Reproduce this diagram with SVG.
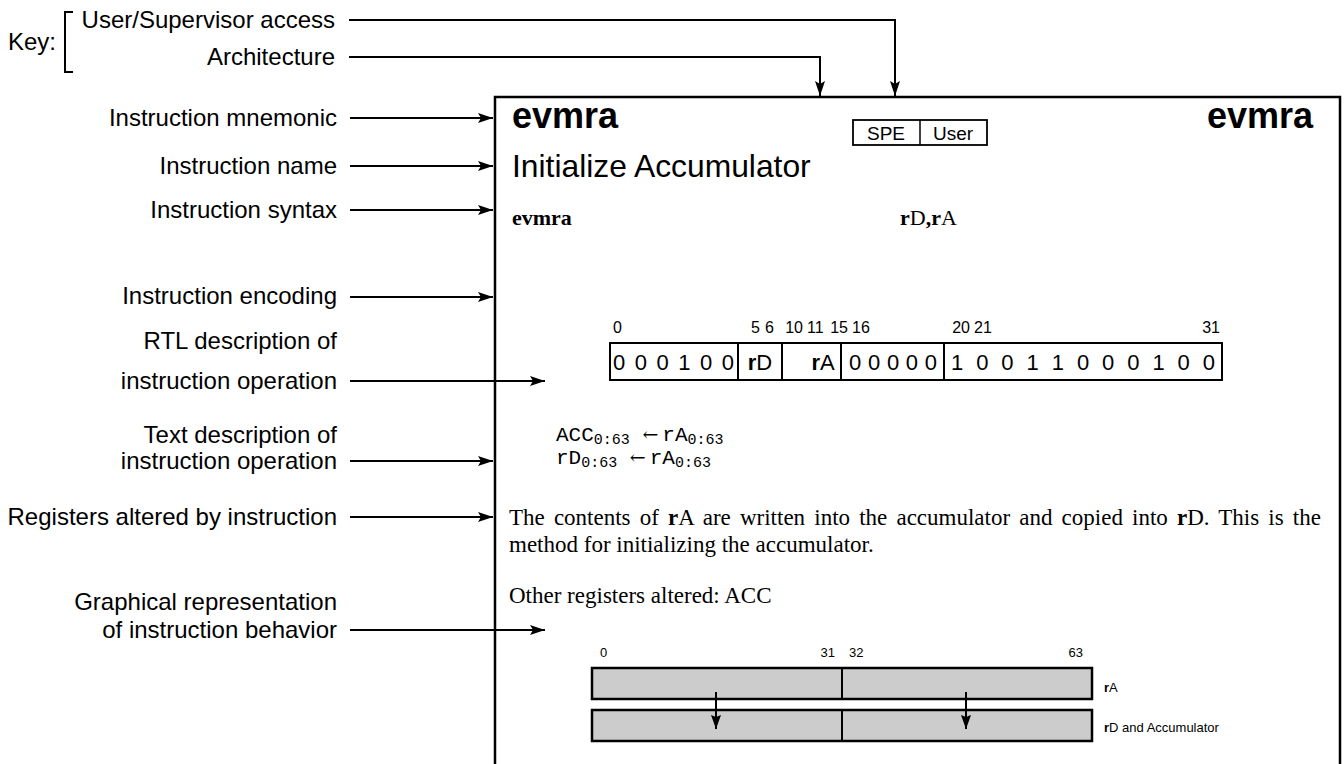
<svg xmlns="http://www.w3.org/2000/svg" width="1344" height="764" viewBox="0 0 1344 764">
<defs>
<marker id="ah" markerUnits="userSpaceOnUse" markerWidth="15" markerHeight="10" refX="15" refY="5" orient="auto"><path d="M0,0 L15,5 L0,10 L3,5 z" fill="#000"/></marker>
<marker id="ahs" markerUnits="userSpaceOnUse" markerWidth="14" markerHeight="10" refX="14" refY="5" orient="auto"><path d="M0,0 L14,5 L0,10 L2,5 z" fill="#000"/></marker>
</defs>
<style>
.sans{font-family:"Liberation Sans",Arial,Helvetica,sans-serif;fill:#000}
.lbl{font-size:24px;text-anchor:end}
.serif{font-family:"Liberation Serif","Times New Roman",serif;fill:#000}
.mono{font-family:"Liberation Mono","Courier New",monospace;fill:#000;font-size:21px}
.sub{font-size:15px}
.arr{font-family:"DejaVu Serif","DejaVu Sans",serif;font-size:19px}
.b{font-weight:bold}
.ln{stroke:#000;stroke-width:2;fill:none}
.reg{fill:#cccccc;stroke:#000;stroke-width:2.5}
</style>
<rect x="0" y="0" width="1344" height="764" fill="#fff"/>

<g id="key">
<text class="sans" x="8" y="50" font-size="24">Key:</text>
<path class="ln" d="M73,12 H65 V72 H73" stroke-width="1.5"/>
<text class="sans lbl" x="335" y="28">User/Supervisor access</text>
<text class="sans lbl" x="335" y="65">Architecture</text>
</g>

<g id="labels">
<text class="sans lbl" x="337" y="126">Instruction mnemonic</text>
<text class="sans lbl" x="337" y="174">Instruction name</text>
<text class="sans lbl" x="337" y="218">Instruction syntax</text>
<text class="sans lbl" x="337" y="304">Instruction encoding</text>
<text class="sans lbl" x="337" y="349">RTL description of</text>
<text class="sans lbl" x="337" y="389">instruction operation</text>
<text class="sans lbl" x="337" y="443">Text description of</text>
<text class="sans lbl" x="337" y="469">instruction operation</text>
<text class="sans lbl" x="337" y="525">Registers altered by instruction</text>
<text class="sans lbl" x="337" y="610">Graphical representation</text>
<text class="sans lbl" x="337" y="638">of instruction behavior</text>
</g>

<g id="page">
<rect x="495" y="97" width="845" height="700" fill="none" stroke="#000" stroke-width="2.5"/>
<text class="sans b" x="512" y="128" font-size="36">evmra</text>
<text class="sans b" x="1313" y="128" font-size="36" text-anchor="end">evmra</text>
<g id="spe">
<rect x="853" y="120" width="134" height="25" fill="none" stroke="#000" stroke-width="1.8"/>
<line x1="920" y1="120" x2="920" y2="145" stroke="#000" stroke-width="1.5"/>
<text class="sans" x="886" y="139.5" font-size="19" text-anchor="middle">SPE</text>
<text class="sans" x="953" y="139.5" font-size="19" text-anchor="middle">User</text>
</g>
<text class="sans" x="512" y="177" font-size="31.8">Initialize Accumulator</text>
<text class="serif b" x="512" y="225" font-size="22">evmra</text>
<text class="serif" x="900" y="225" font-size="22"><tspan class="b">r</tspan>D<tspan class="b">,r</tspan>A</text>
</g>

<g id="encoding">
<g class="sans" font-size="16">
<text x="613" y="333">0</text>
<text x="760" y="333" text-anchor="end">5</text>
<text x="765" y="333">6</text>
<text x="803" y="333" text-anchor="end">10</text>
<text x="807" y="333">11</text>
<text x="848" y="333" text-anchor="end">15</text>
<text x="852" y="333">16</text>
<text x="970" y="333" text-anchor="end">20</text>
<text x="974" y="333">21</text>
<text x="1220" y="333" text-anchor="end">31</text>
</g>
<rect x="610" y="343" width="612" height="37" fill="none" stroke="#000" stroke-width="2"/>
<line x1="738" y1="343" x2="738" y2="380" stroke="#000" stroke-width="2"/>
<line x1="782" y1="343" x2="782" y2="380" stroke="#000" stroke-width="2"/>
<line x1="841" y1="343" x2="841" y2="380" stroke="#000" stroke-width="2"/>
<line x1="944" y1="343" x2="944" y2="380" stroke="#000" stroke-width="2"/>
<g class="sans" font-size="22">
<text x="613" y="370" textLength="121" lengthAdjust="spacing">0 0 0 1 0 0</text>
<text x="760" y="370" text-anchor="middle"><tspan class="b">r</tspan>D</text>
<text x="823" y="370" text-anchor="middle"><tspan class="b">r</tspan>A</text>
<text x="849" y="370" textLength="88" lengthAdjust="spacing">0 0 0 0 0</text>
<text x="951" y="370" textLength="264" lengthAdjust="spacing">1 0 0 1 1 0 0 0 1 0 0</text>
</g>
</g>

<g id="rtl">
<text class="mono" x="556" y="441">ACC<tspan class="sub" dy="3">0:63</tspan><tspan dy="-3"> </tspan><tspan class="arr">←</tspan><tspan dx="4">rA</tspan><tspan class="sub" dy="3">0:63</tspan></text>
<text class="mono" x="556" y="464">rD<tspan class="sub" dy="3">0:63</tspan><tspan dy="-3"> </tspan><tspan class="arr">←</tspan><tspan dx="4">rA</tspan><tspan class="sub" dy="3">0:63</tspan></text>
</g>

<g id="description" class="serif" font-size="23">
<text x="509" y="525" word-spacing="3.4">The contents of <tspan class="b">r</tspan>A are written into the accumulator and copied into <tspan class="b">r</tspan>D. This is the</text>
<text x="509" y="552">method for initializing the accumulator.</text>
<text x="509" y="603">Other registers altered: ACC</text>
</g>

<g id="graph">
<g class="sans" font-size="13">
<text x="600" y="657">0</text>
<text x="835" y="657" text-anchor="end">31</text>
<text x="849" y="657">32</text>
<text x="1083" y="657" text-anchor="end">63</text>
</g>
<g id="reg-rA">
<rect class="reg" x="592" y="668" width="500" height="31"/>
<line x1="842" y1="668" x2="842" y2="699" stroke="#000" stroke-width="2"/>
<text class="sans" x="1104" y="692" font-size="13"><tspan class="b">r</tspan>A</text>
</g>
<g id="reg-rD">
<rect class="reg" x="592" y="710" width="500" height="31"/>
<line x1="842" y1="710" x2="842" y2="741" stroke="#000" stroke-width="2"/>
<text class="sans" x="1104" y="732" font-size="13"><tspan class="b">r</tspan>D and Accumulator</text>
</g>
</g>

<g id="connectors">
<path class="ln" d="M349,20 H895 V96" marker-end="url(#ah)"/>
<path class="ln" d="M349,57 H820 V96" marker-end="url(#ah)"/>
<line class="ln" x1="350" y1="118" x2="493" y2="118" marker-end="url(#ah)"/>
<line class="ln" x1="350" y1="166" x2="493" y2="166" marker-end="url(#ah)"/>
<line class="ln" x1="350" y1="210" x2="493" y2="210" marker-end="url(#ah)"/>
<line class="ln" x1="350" y1="297" x2="493" y2="297" marker-end="url(#ah)"/>
<line class="ln" x1="350" y1="381" x2="545" y2="381" marker-end="url(#ah)"/>
<line class="ln" x1="350" y1="461" x2="493" y2="461" marker-end="url(#ah)"/>
<line class="ln" x1="350" y1="517" x2="493" y2="517" marker-end="url(#ah)"/>
<line class="ln" x1="350" y1="630" x2="545" y2="630" marker-end="url(#ah)"/>
<line class="ln" x1="716" y1="692" x2="716" y2="729" stroke-width="1.5" marker-end="url(#ahs)"/>
<line class="ln" x1="966" y1="692" x2="966" y2="729" stroke-width="1.5" marker-end="url(#ahs)"/>
</g>
</svg>
